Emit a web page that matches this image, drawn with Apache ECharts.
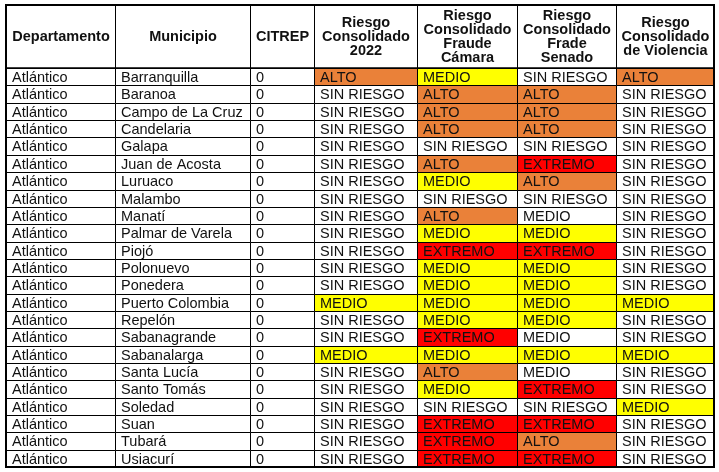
<!DOCTYPE html>
<html>
<head>
<meta charset="utf-8">
<script src="https://cdn.jsdelivr.net/npm/echarts@6/dist/echarts.min.js"></script>
<style>
  html, body { margin: 0; padding: 0; background: #fff; }
  #chart { width: 719px; height: 472px; }
</style>
</head>
<body>
<div id="chart"></div>
<script>
// --- data ---
var headers = [
  'Departamento',
  'Municipio',
  'CITREP',
  'Riesgo\nConsolidado\n2022',
  'Riesgo\nConsolidado\nFraude\nCámara',
  'Riesgo\nConsolidado\nFrade\nSenado',
  'Riesgo\nConsolidado\nde Violencia'
];
var departamento = 'Atlántico';
var municipios = [
  'Barranquilla', 'Baranoa', 'Campo de La Cruz', 'Candelaria', 'Galapa',
  'Juan de Acosta', 'Luruaco', 'Malambo', 'Manatí', 'Palmar de Varela',
  'Piojó', 'Polonuevo', 'Ponedera', 'Puerto Colombia', 'Repelón',
  'Sabanagrande', 'Sabanalarga', 'Santa Lucía', 'Santo Tomás', 'Soledad',
  'Suan', 'Tubará', 'Usiacurí'
];
var citrep = [0,0,0,0,0,0,0,0,0,0,0,0,0,0,0,0,0,0,0,0,0,0,0];
// S = SIN RIESGO, M = MEDIO, A = ALTO, E = EXTREMO, m = MEDIO (sin color)
var riesgo2022 =  ['A','S','S','S','S','S','S','S','S','S','S','S','S','M','S','S','M','S','S','S','S','S','S'];
var fraudeCamara = ['M','A','A','A','S','A','M','S','A','M','E','M','M','M','M','E','M','A','M','S','E','E','E'];
var fradeSenado =  ['S','A','A','A','S','E','A','S','m','M','E','M','M','M','M','m','M','m','E','S','E','A','E'];
var violencia =    ['A','S','S','S','S','S','S','S','S','S','S','S','S','M','S','S','M','S','S','M','S','S','S'];

var levelText = { S: 'SIN RIESGO', M: 'MEDIO', m: 'MEDIO', A: 'ALTO', E: 'EXTREMO' };
var levelFill = { S: '#ffffff', M: '#ffff00', m: '#ffffff', A: '#ea8139', E: '#ff0000' };

// --- layout ---
var colWidths = [109, 135, 63.5, 103.5, 100, 99, 98];
var headerUnits = 3.64; // header height measured in data-row units
var font = "'Liberation Sans', Arial, Helvetica, sans-serif";

var colStart = [0];
colWidths.forEach(function (w, i) { colStart.push(colStart[i] + w); });
var totalW = colStart[colStart.length - 1];
var totalH = headerUnits + municipios.length;

// cells: [x0, x1, y0, y1, text, fill, isHeader]
var cells = [];
headers.forEach(function (h, c) {
  cells.push([colStart[c], colStart[c + 1], 0, headerUnits, h, '#ffffff', 1]);
});
municipios.forEach(function (m, r) {
  var y0 = headerUnits + r, y1 = y0 + 1;
  var row = [
    [departamento, '#ffffff'],
    [m, '#ffffff'],
    [String(citrep[r]), '#ffffff'],
    [levelText[riesgo2022[r]], levelFill[riesgo2022[r]]],
    [levelText[fraudeCamara[r]], levelFill[fraudeCamara[r]]],
    [levelText[fradeSenado[r]], levelFill[fradeSenado[r]]],
    [levelText[violencia[r]], levelFill[violencia[r]]]
  ];
  row.forEach(function (v, c) {
    cells.push([colStart[c], colStart[c + 1], y0, y1, v[0], v[1], 0]);
  });
});

var chart = echarts.init(document.getElementById('chart'));

function px(v) { return Math.round(v) + 0.5; }

chart.setOption({
  animation: false,
  grid: { left: 6, right: 5, top: 5, bottom: 5 },
  xAxis: { type: 'value', min: 0, max: totalW, show: false },
  yAxis: { type: 'value', min: 0, max: totalH, inverse: true, show: false },
  series: [{
    type: 'custom',
    clip: false,
    data: cells,
    renderItem: function (params, api) {
      var d = cells[params.dataIndex];
      var p0 = api.coord([d[0], d[2]]);
      var p1 = api.coord([d[1], d[3]]);
      var x0 = px(p0[0]), y0 = px(p0[1]), x1 = px(p1[0]), y1 = px(p1[1]);
      var isHeader = d[6] === 1;
      return {
        type: 'group',
        children: [{
          type: 'rect',
          shape: { x: x0, y: y0, width: x1 - x0, height: y1 - y0 },
          style: { fill: d[5], stroke: '#000', lineWidth: 1 }
        }, {
          type: 'text',
          style: {
            text: d[4],
            x: isHeader ? (x0 + x1) / 2 : x0 + 5.5,
            y: (y0 + y1) / 2 + (isHeader ? 0 : 0.5),
            align: isHeader ? 'center' : 'left',
            verticalAlign: 'middle',
            fill: '#111',
            font: (isHeader ? 'bold ' : '') + '14.5px ' + font,
            lineHeight: isHeader ? 14 : 16
          }
        }]
      };
    }
  }, {
    type: 'custom',
    clip: false,
    z: 5,
    data: [[0, totalW, 0, totalH]],
    renderItem: function (params, api) {
      var p0 = api.coord([0, 0]);
      var p1 = api.coord([totalW, totalH]);
      var hy = api.coord([0, headerUnits])[1];
      return {
        type: 'group',
        children: [{
          type: 'rect',
          shape: { x: Math.round(p0[0]), y: Math.round(p0[1]), width: Math.round(p1[0] - p0[0]), height: Math.round(p1[1] - p0[1]) },
          style: { fill: 'none', stroke: '#000', lineWidth: 2 }
        }, {
          type: 'line',
          shape: { x1: p0[0], y1: Math.round(hy), x2: p1[0], y2: Math.round(hy) },
          style: { stroke: '#000', lineWidth: 1.5 }
        }]
      };
    }
  }]
});
</script>
</body>
</html>
